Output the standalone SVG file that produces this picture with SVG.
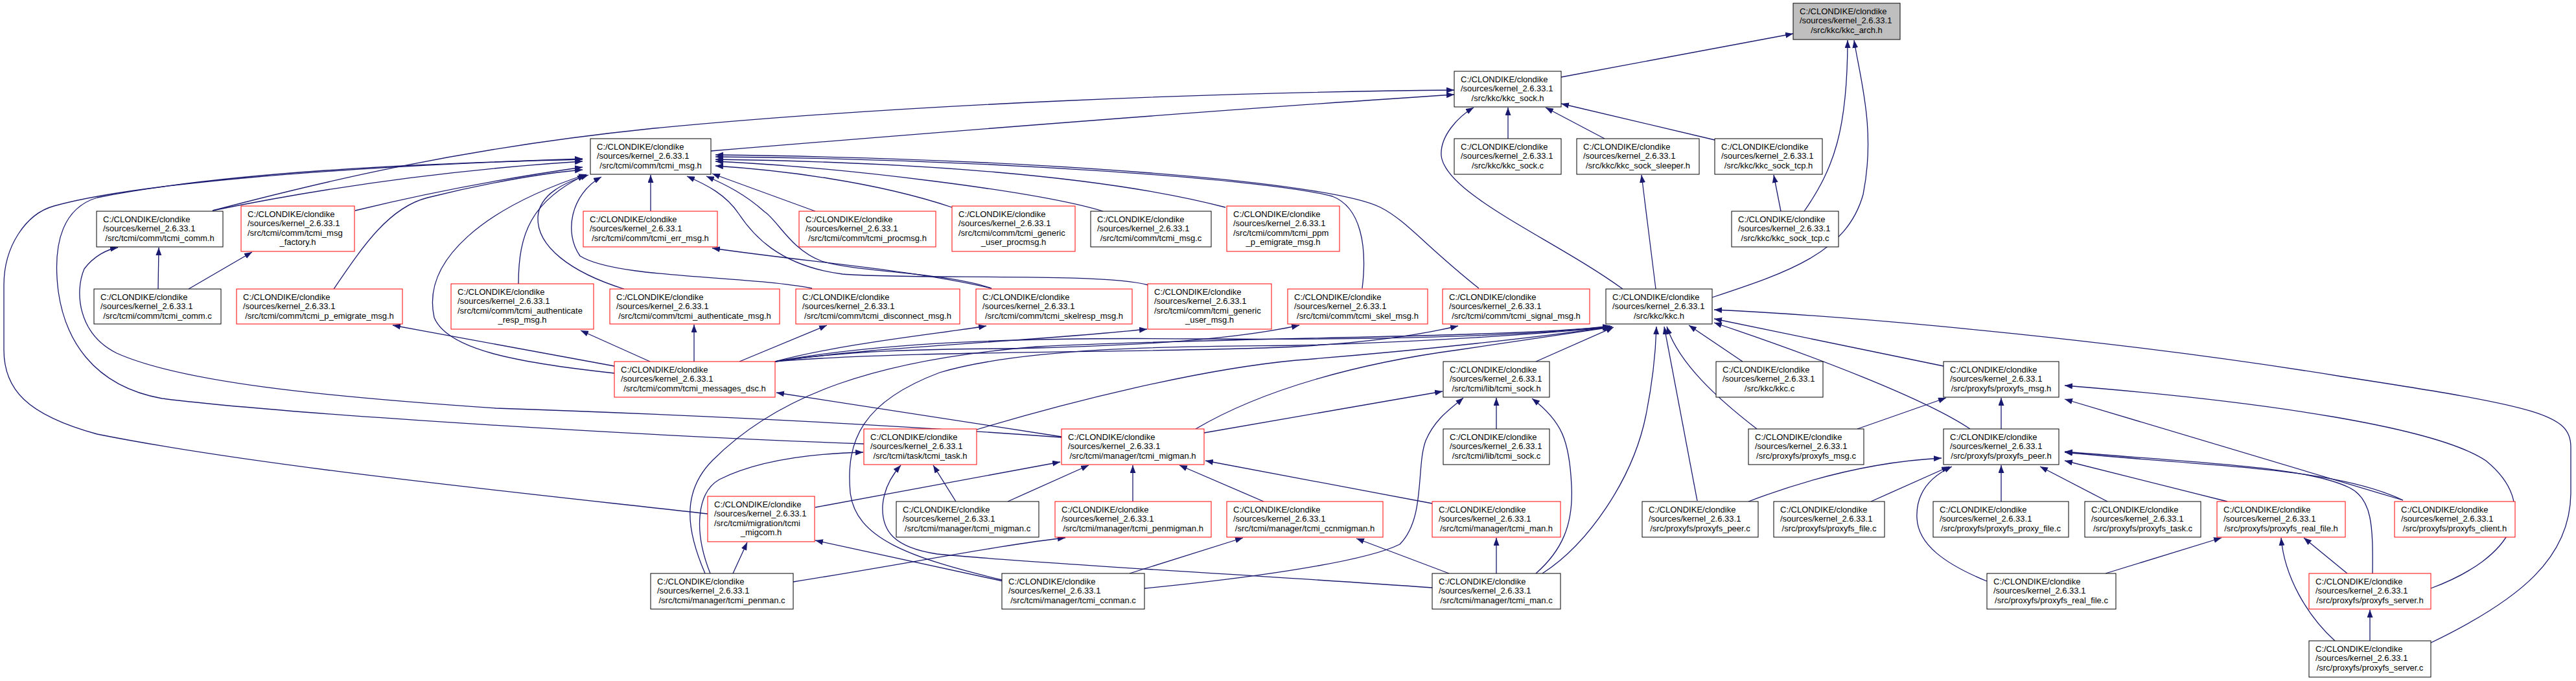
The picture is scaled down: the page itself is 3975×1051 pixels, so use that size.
<svg xmlns="http://www.w3.org/2000/svg" width="3975" height="1051" viewBox="0 0 3975 1051">
<defs>
<style>
rect{stroke-width:1;fill:#fff}
.k{stroke:#000}
.r{stroke:#ff0000}
.g{fill:#bfbfbf;stroke:#000}
text{font-family:"Liberation Sans",Arial,sans-serif;font-size:13px;fill:#000}
.c{text-anchor:middle}
#edges path{fill:none;stroke:#191970;stroke-width:1.3;marker-end:url(#a)}
</style>
<marker id="a" viewBox="0 0 12 9" refX="12" refY="4.5" markerWidth="12" markerHeight="9" markerUnits="userSpaceOnUse" orient="auto"><path d="M0,0 L12,4.5 L0,9 z" fill="#191970"/></marker>
</defs>
<rect x="0" y="0" width="3975" height="1051" fill="#fff" stroke="none"/>
<g id="edges">
<path d="M2409,119 L2767,52"/>
<path d="M2784,326 C2830,260 2851,200 2851,62"/>
<path d="M2642,459 C2760,420 2850,390 2875,300 C2895,200 2870,120 2861,62"/>
<path d="M1097,233 C1400,208 1900,168 2244,146"/>
<path d="M328,325 C480,285 700,230 1000,199 C1400,160 1900,142 2244,139"/>
<path d="M2327,214 L2327,166"/>
<path d="M2476,214 L2385,166"/>
<path d="M2646,216 L2409,160"/>
<path d="M2504,446 C2400,370 2230,300 2224,240 C2222,210 2250,180 2274,166"/>
<path d="M2748,326 L2737,270"/>
<path d="M2555,446 L2533,270"/>
<path d="M328,325 C450,300 650,265 899,249"/>
<path d="M548,325 C650,300 780,275 899,258"/>
<path d="M515,446 C560,380 600,320 660,305 C740,285 830,268 899,262"/>
<path d="M800,438 C800,360 820,310 903,270"/>
<path d="M948,576 C800,560 690,540 670,490 C650,400 750,320 905,269"/>
<path d="M963,446 C880,420 828,380 830,335 C832,300 870,282 908,270"/>
<path d="M1253,445 C1150,425 950,430 895,395 C870,360 880,300 928,273"/>
<path d="M1004,326 L1004,270"/>
<path d="M1772,440 C1700,420 1400,432 1300,423 C1200,410 1160,360 1140,330 C1120,300 1090,285 1060,272"/>
<path d="M1530,445 C1460,420 1320,420 1268,403 C1220,385 1200,340 1180,327 C1150,300 1120,285 1090,272"/>
<path d="M1530,445 C1400,415 1250,405 1099,383"/>
<path d="M1258,326 L1099,268"/>
<path d="M1469,320 C1350,280 1200,262 1104,256"/>
<path d="M1702,326 C1600,295 1300,258 1104,249"/>
<path d="M1891,320 C1700,270 1400,250 1104,246"/>
<path d="M2102,445 C2110,380 2100,320 2056,303 C1950,275 1500,245 1104,242"/>
<path d="M2282,445 C2200,380 2170,340 2130,320 C2050,280 1600,245 1104,239"/>
<path d="M1333,685 C1000,673 450,640 250,615 C140,595 100,520 90,450 C80,370 100,320 150,305 C350,265 650,252 899,246"/>
<path d="M1092,793 C800,760 400,720 150,670 C40,640 6,600 6,540 L6,440 C6,380 40,330 83,318 C200,285 500,258 899,245"/>
<path d="M1638,675 C1300,650 1000,638 765,630 C500,612 280,590 180,545 C120,515 115,450 130,415 C145,395 165,385 182,382"/>
<path d="M244,446 L245,382"/>
<path d="M291,446 L389,389"/>
<path d="M948,565 L606,502"/>
<path d="M1003,558 L896,510"/>
<path d="M1071,558 L1071,501"/>
<path d="M1141,558 L1276,502"/>
<path d="M1196,558 C1300,530 1450,515 1522,503"/>
<path d="M1196,558 C1350,535 1550,530 1770,508"/>
<path d="M1196,558 C1350,535 1500,540 1600,537 C1750,533 1900,525 2005,502"/>
<path d="M1196,558 C1400,540 1800,545 2000,535 C2120,528 2200,515 2250,503"/>
<path d="M1196,558 C1350,530 1550,520 1850,523 C2100,525 2350,520 2485,503"/>
<path d="M1507,663 C1650,620 1850,570 2000,556 C2200,540 2380,520 2488,504"/>
<path d="M1845,662 C1950,600 2100,560 2250,540 C2350,525 2440,512 2486,505"/>
<path d="M1858,668 L2226,604"/>
<path d="M1088,885 C1060,820 1050,760 1100,710 C1200,610 1350,555 1600,535 C1900,520 2300,522 2485,504"/>
<path d="M1096,885 C1070,820 1075,760 1110,740 C1170,710 1250,700 1332,698"/>
<path d="M1131,885 L1153,837"/>
<path d="M1224,898 C1400,870 1550,840 1644,830"/>
<path d="M1546,895 C1400,860 1320,830 1312,760 C1305,680 1330,620 1450,575 C1600,530 1900,535 2000,533 C2200,528 2380,515 2485,505"/>
<path d="M2210,907 C1900,885 1600,870 1446,855 C1380,845 1360,820 1362,780 C1364,755 1375,735 1390,718"/>
<path d="M1548,897 L1258,834"/>
<path d="M1743,885 L1918,830"/>
<path d="M1766,908 C1900,895 2100,870 2160,840 C2200,800 2185,720 2200,680 C2215,645 2240,630 2258,614"/>
<path d="M1475,774 L1440,718"/>
<path d="M1555,774 L1680,718"/>
<path d="M1748,774 L1748,718"/>
<path d="M1950,774 L1820,718"/>
<path d="M1258,783 L1636,713"/>
<path d="M2210,777 L1860,711"/>
<path d="M1638,674 L1198,606"/>
<path d="M2309,885 L2309,830"/>
<path d="M2236,885 L2093,831"/>
<path d="M2370,885 C2410,850 2428,810 2425,750 C2422,680 2410,650 2364,615"/>
<path d="M2380,885 C2450,840 2520,740 2540,640 C2552,580 2555,540 2556,504"/>
<path d="M2309,662 L2309,614"/>
<path d="M2370,558 L2490,505"/>
<path d="M2619,773 L2568,504"/>
<path d="M2711,662 C2650,615 2590,560 2572,504"/>
<path d="M2689,558 L2606,502"/>
<path d="M2999,565 L2645,492"/>
<path d="M3040,662 C2970,615 2800,550 2645,498"/>
<path d="M3751,992 C3890,925 3967,860 3967,760 L3967,690 C3967,640 3920,628 3613,581 C3300,530 2900,490 2645,478"/>
<path d="M2866,662 L3003,614"/>
<path d="M3088,662 L3088,614"/>
<path d="M3708,772 L3186,616"/>
<path d="M3751,908 C3880,860 3920,780 3836,711 C3760,660 3500,620 3186,595"/>
<path d="M2698,774 C2800,735 2900,712 2996,707"/>
<path d="M2887,774 L3008,720"/>
<path d="M3066,897 C3000,870 2960,840 2958,800 C2956,760 2980,735 3012,720"/>
<path d="M3088,774 L3088,718"/>
<path d="M3252,774 L3148,720"/>
<path d="M3437,774 L3186,711"/>
<path d="M3708,772 C3600,720 3400,720 3186,698"/>
<path d="M3661,885 C3662,810 3660,770 3626,753 C3560,720 3400,715 3186,697"/>
<path d="M3249,885 L3428,830"/>
<path d="M3622,885 L3555,830"/>
<path d="M3603,989 C3560,950 3525,890 3520,830"/>
<path d="M3657,989 L3657,941"/>
</g>
<g id="n_kkc_arch_h"><rect class="g" x="2767" y="5" width="165" height="56"/><text x="2777" y="21.5">C:/CLONDIKE/clondike</text><text x="2777" y="36">/sources/kernel_2.6.33.1</text><text class="c" x="2849.5" y="50.5">/src/kkc/kkc_arch.h</text></g>
<g id="n_kkc_sock_h"><rect class="k" x="2244" y="110" width="165" height="55"/><text x="2254" y="126.5">C:/CLONDIKE/clondike</text><text x="2254" y="141">/sources/kernel_2.6.33.1</text><text class="c" x="2326.5" y="155.5">/src/kkc/kkc_sock.h</text></g>
<g id="n_kkc_sock_c"><rect class="k" x="2244" y="214" width="165" height="55"/><text x="2254" y="230.5">C:/CLONDIKE/clondike</text><text x="2254" y="245">/sources/kernel_2.6.33.1</text><text class="c" x="2326.5" y="259.5">/src/kkc/kkc_sock.c</text></g>
<g id="n_kkc_sock_sleeper_h"><rect class="k" x="2433" y="214" width="189" height="55"/><text x="2443" y="230.5">C:/CLONDIKE/clondike</text><text x="2443" y="245">/sources/kernel_2.6.33.1</text><text class="c" x="2527.5" y="259.5">/src/kkc/kkc_sock_sleeper.h</text></g>
<g id="n_kkc_sock_tcp_h"><rect class="k" x="2646" y="214" width="166" height="55"/><text x="2656" y="230.5">C:/CLONDIKE/clondike</text><text x="2656" y="245">/sources/kernel_2.6.33.1</text><text class="c" x="2729" y="259.5">/src/kkc/kkc_sock_tcp.h</text></g>
<g id="n_kkc_sock_tcp_c"><rect class="k" x="2672" y="326" width="165" height="55"/><text x="2682" y="342.5">C:/CLONDIKE/clondike</text><text x="2682" y="357">/sources/kernel_2.6.33.1</text><text class="c" x="2754.5" y="371.5">/src/kkc/kkc_sock_tcp.c</text></g>
<g id="n_tcmi_msg_h"><rect class="k" x="911" y="214" width="186" height="55"/><text x="921" y="230.5">C:/CLONDIKE/clondike</text><text x="921" y="245">/sources/kernel_2.6.33.1</text><text class="c" x="1004" y="259.5">/src/tcmi/comm/tcmi_msg.h</text></g>
<g id="n_tcmi_comm_h"><rect class="k" x="149" y="326" width="195" height="55"/><text x="159" y="342.5">C:/CLONDIKE/clondike</text><text x="159" y="357">/sources/kernel_2.6.33.1</text><text class="c" x="246.5" y="371.5">/src/tcmi/comm/tcmi_comm.h</text></g>
<g id="n_tcmi_msg_factory_h"><rect class="r" x="372" y="318" width="175" height="70"/><text x="382" y="334.5">C:/CLONDIKE/clondike</text><text x="382" y="349">/sources/kernel_2.6.33.1</text><text x="382" y="363.5">/src/tcmi/comm/tcmi_msg</text><text class="c" x="459.5" y="378">_factory.h</text></g>
<g id="n_tcmi_comm_c"><rect class="k" x="145" y="446" width="196" height="54"/><text x="155" y="462.5">C:/CLONDIKE/clondike</text><text x="155" y="477">/sources/kernel_2.6.33.1</text><text class="c" x="243" y="491.5">/src/tcmi/comm/tcmi_comm.c</text></g>
<g id="n_tcmi_p_emigrate_msg_h"><rect class="r" x="365" y="446" width="256" height="54"/><text x="375" y="462.5">C:/CLONDIKE/clondike</text><text x="375" y="477">/sources/kernel_2.6.33.1</text><text class="c" x="493" y="491.5">/src/tcmi/comm/tcmi_p_emigrate_msg.h</text></g>
<g id="n_tcmi_authenticate_resp_msg_h"><rect class="r" x="696" y="438" width="220" height="70"/><text x="706" y="454.5">C:/CLONDIKE/clondike</text><text x="706" y="469">/sources/kernel_2.6.33.1</text><text x="706" y="483.5">/src/tcmi/comm/tcmi_authenticate</text><text class="c" x="806" y="498">_resp_msg.h</text></g>
<g id="n_tcmi_err_msg_h"><rect class="r" x="900" y="326" width="207" height="55"/><text x="910" y="342.5">C:/CLONDIKE/clondike</text><text x="910" y="357">/sources/kernel_2.6.33.1</text><text class="c" x="1003.5" y="371.5">/src/tcmi/comm/tcmi_err_msg.h</text></g>
<g id="n_tcmi_authenticate_msg_h"><rect class="r" x="941" y="446" width="262" height="54"/><text x="951" y="462.5">C:/CLONDIKE/clondike</text><text x="951" y="477">/sources/kernel_2.6.33.1</text><text class="c" x="1072" y="491.5">/src/tcmi/comm/tcmi_authenticate_msg.h</text></g>
<g id="n_tcmi_procmsg_h"><rect class="r" x="1233" y="326" width="211" height="55"/><text x="1243" y="342.5">C:/CLONDIKE/clondike</text><text x="1243" y="357">/sources/kernel_2.6.33.1</text><text class="c" x="1338.5" y="371.5">/src/tcmi/comm/tcmi_procmsg.h</text></g>
<g id="n_tcmi_generic_user_procmsg_h"><rect class="r" x="1469" y="318" width="190" height="70"/><text x="1479" y="334.5">C:/CLONDIKE/clondike</text><text x="1479" y="349">/sources/kernel_2.6.33.1</text><text x="1479" y="363.5">/src/tcmi/comm/tcmi_generic</text><text class="c" x="1564" y="378">_user_procmsg.h</text></g>
<g id="n_tcmi_msg_c"><rect class="k" x="1683" y="326" width="186" height="55"/><text x="1693" y="342.5">C:/CLONDIKE/clondike</text><text x="1693" y="357">/sources/kernel_2.6.33.1</text><text class="c" x="1776" y="371.5">/src/tcmi/comm/tcmi_msg.c</text></g>
<g id="n_tcmi_ppm_p_emigrate_msg_h"><rect class="r" x="1893" y="318" width="174" height="70"/><text x="1903" y="334.5">C:/CLONDIKE/clondike</text><text x="1903" y="349">/sources/kernel_2.6.33.1</text><text x="1903" y="363.5">/src/tcmi/comm/tcmi_ppm</text><text class="c" x="1980" y="378">_p_emigrate_msg.h</text></g>
<g id="n_tcmi_disconnect_msg_h"><rect class="r" x="1228" y="446" width="253" height="54"/><text x="1238" y="462.5">C:/CLONDIKE/clondike</text><text x="1238" y="477">/sources/kernel_2.6.33.1</text><text class="c" x="1354.5" y="491.5">/src/tcmi/comm/tcmi_disconnect_msg.h</text></g>
<g id="n_tcmi_skelresp_msg_h"><rect class="r" x="1506" y="446" width="241" height="54"/><text x="1516" y="462.5">C:/CLONDIKE/clondike</text><text x="1516" y="477">/sources/kernel_2.6.33.1</text><text class="c" x="1626.5" y="491.5">/src/tcmi/comm/tcmi_skelresp_msg.h</text></g>
<g id="n_tcmi_generic_user_msg_h"><rect class="r" x="1771" y="438" width="191" height="70"/><text x="1781" y="454.5">C:/CLONDIKE/clondike</text><text x="1781" y="469">/sources/kernel_2.6.33.1</text><text x="1781" y="483.5">/src/tcmi/comm/tcmi_generic</text><text class="c" x="1866.5" y="498">_user_msg.h</text></g>
<g id="n_tcmi_skel_msg_h"><rect class="r" x="1987" y="446" width="216" height="54"/><text x="1997" y="462.5">C:/CLONDIKE/clondike</text><text x="1997" y="477">/sources/kernel_2.6.33.1</text><text class="c" x="2095" y="491.5">/src/tcmi/comm/tcmi_skel_msg.h</text></g>
<g id="n_tcmi_signal_msg_h"><rect class="r" x="2226" y="446" width="227" height="54"/><text x="2236" y="462.5">C:/CLONDIKE/clondike</text><text x="2236" y="477">/sources/kernel_2.6.33.1</text><text class="c" x="2339.5" y="491.5">/src/tcmi/comm/tcmi_signal_msg.h</text></g>
<g id="n_kkc_h"><rect class="k" x="2478" y="446" width="164" height="54"/><text x="2488" y="462.5">C:/CLONDIKE/clondike</text><text x="2488" y="477">/sources/kernel_2.6.33.1</text><text class="c" x="2560" y="491.5">/src/kkc/kkc.h</text></g>
<g id="n_tcmi_messages_dsc_h"><rect class="r" x="948" y="558" width="248" height="55"/><text x="958" y="574.5">C:/CLONDIKE/clondike</text><text x="958" y="589">/sources/kernel_2.6.33.1</text><text class="c" x="1072" y="603.5">/src/tcmi/comm/tcmi_messages_dsc.h</text></g>
<g id="n_tcmi_task_h"><rect class="r" x="1333" y="662" width="174" height="55"/><text x="1343" y="678.5">C:/CLONDIKE/clondike</text><text x="1343" y="693">/sources/kernel_2.6.33.1</text><text class="c" x="1420" y="707.5">/src/tcmi/task/tcmi_task.h</text></g>
<g id="n_tcmi_migman_h"><rect class="r" x="1638" y="662" width="220" height="55"/><text x="1648" y="678.5">C:/CLONDIKE/clondike</text><text x="1648" y="693">/sources/kernel_2.6.33.1</text><text class="c" x="1748" y="707.5">/src/tcmi/manager/tcmi_migman.h</text></g>
<g id="n_tcmi_migcom_h"><rect class="r" x="1092" y="766" width="165" height="70"/><text x="1102" y="782.5">C:/CLONDIKE/clondike</text><text x="1102" y="797">/sources/kernel_2.6.33.1</text><text x="1102" y="811.5">/src/tcmi/migration/tcmi</text><text class="c" x="1174.5" y="826">_migcom.h</text></g>
<g id="n_tcmi_migman_c"><rect class="k" x="1383" y="774" width="220" height="55"/><text x="1393" y="790.5">C:/CLONDIKE/clondike</text><text x="1393" y="805">/sources/kernel_2.6.33.1</text><text class="c" x="1493" y="819.5">/src/tcmi/manager/tcmi_migman.c</text></g>
<g id="n_tcmi_penmigman_h"><rect class="r" x="1628" y="774" width="241" height="55"/><text x="1638" y="790.5">C:/CLONDIKE/clondike</text><text x="1638" y="805">/sources/kernel_2.6.33.1</text><text class="c" x="1748.5" y="819.5">/src/tcmi/manager/tcmi_penmigman.h</text></g>
<g id="n_tcmi_ccnmigman_h"><rect class="r" x="1893" y="774" width="241" height="55"/><text x="1903" y="790.5">C:/CLONDIKE/clondike</text><text x="1903" y="805">/sources/kernel_2.6.33.1</text><text class="c" x="2013.5" y="819.5">/src/tcmi/manager/tcmi_ccnmigman.h</text></g>
<g id="n_tcmi_penman_c"><rect class="k" x="1004" y="885" width="220" height="55"/><text x="1014" y="901.5">C:/CLONDIKE/clondike</text><text x="1014" y="916">/sources/kernel_2.6.33.1</text><text class="c" x="1114" y="930.5">/src/tcmi/manager/tcmi_penman.c</text></g>
<g id="n_tcmi_ccnman_c"><rect class="k" x="1546" y="885" width="220" height="55"/><text x="1556" y="901.5">C:/CLONDIKE/clondike</text><text x="1556" y="916">/sources/kernel_2.6.33.1</text><text class="c" x="1656" y="930.5">/src/tcmi/manager/tcmi_ccnman.c</text></g>
<g id="n_tcmi_sock_h"><rect class="k" x="2227" y="558" width="164" height="55"/><text x="2237" y="574.5">C:/CLONDIKE/clondike</text><text x="2237" y="589">/sources/kernel_2.6.33.1</text><text class="c" x="2309" y="603.5">/src/tcmi/lib/tcmi_sock.h</text></g>
<g id="n_kkc_c"><rect class="k" x="2648" y="558" width="165" height="55"/><text x="2658" y="574.5">C:/CLONDIKE/clondike</text><text x="2658" y="589">/sources/kernel_2.6.33.1</text><text class="c" x="2730.5" y="603.5">/src/kkc/kkc.c</text></g>
<g id="n_tcmi_sock_c"><rect class="k" x="2227" y="662" width="164" height="55"/><text x="2237" y="678.5">C:/CLONDIKE/clondike</text><text x="2237" y="693">/sources/kernel_2.6.33.1</text><text class="c" x="2309" y="707.5">/src/tcmi/lib/tcmi_sock.c</text></g>
<g id="n_proxyfs_msg_c"><rect class="k" x="2698" y="662" width="178" height="55"/><text x="2708" y="678.5">C:/CLONDIKE/clondike</text><text x="2708" y="693">/sources/kernel_2.6.33.1</text><text class="c" x="2787" y="707.5">/src/proxyfs/proxyfs_msg.c</text></g>
<g id="n_tcmi_man_h"><rect class="r" x="2210" y="774" width="198" height="55"/><text x="2220" y="790.5">C:/CLONDIKE/clondike</text><text x="2220" y="805">/sources/kernel_2.6.33.1</text><text class="c" x="2309" y="819.5">/src/tcmi/manager/tcmi_man.h</text></g>
<g id="n_proxyfs_peer_c"><rect class="k" x="2534" y="774" width="179" height="55"/><text x="2544" y="790.5">C:/CLONDIKE/clondike</text><text x="2544" y="805">/sources/kernel_2.6.33.1</text><text class="c" x="2623.5" y="819.5">/src/proxyfs/proxyfs_peer.c</text></g>
<g id="n_proxyfs_file_c"><rect class="k" x="2737" y="774" width="171" height="55"/><text x="2747" y="790.5">C:/CLONDIKE/clondike</text><text x="2747" y="805">/sources/kernel_2.6.33.1</text><text class="c" x="2822.5" y="819.5">/src/proxyfs/proxyfs_file.c</text></g>
<g id="n_tcmi_man_c"><rect class="k" x="2210" y="885" width="198" height="55"/><text x="2220" y="901.5">C:/CLONDIKE/clondike</text><text x="2220" y="916">/sources/kernel_2.6.33.1</text><text class="c" x="2309" y="930.5">/src/tcmi/manager/tcmi_man.c</text></g>
<g id="n_proxyfs_msg_h"><rect class="k" x="2999" y="558" width="178" height="55"/><text x="3009" y="574.5">C:/CLONDIKE/clondike</text><text x="3009" y="589">/sources/kernel_2.6.33.1</text><text class="c" x="3088" y="603.5">/src/proxyfs/proxyfs_msg.h</text></g>
<g id="n_proxyfs_peer_h"><rect class="k" x="2999" y="662" width="178" height="55"/><text x="3009" y="678.5">C:/CLONDIKE/clondike</text><text x="3009" y="693">/sources/kernel_2.6.33.1</text><text class="c" x="3088" y="707.5">/src/proxyfs/proxyfs_peer.h</text></g>
<g id="n_proxyfs_proxy_file_c"><rect class="k" x="2983" y="774" width="209" height="55"/><text x="2993" y="790.5">C:/CLONDIKE/clondike</text><text x="2993" y="805">/sources/kernel_2.6.33.1</text><text class="c" x="3087.5" y="819.5">/src/proxyfs/proxyfs_proxy_file.c</text></g>
<g id="n_proxyfs_task_c"><rect class="k" x="3217" y="774" width="179" height="55"/><text x="3227" y="790.5">C:/CLONDIKE/clondike</text><text x="3227" y="805">/sources/kernel_2.6.33.1</text><text class="c" x="3306.5" y="819.5">/src/proxyfs/proxyfs_task.c</text></g>
<g id="n_proxyfs_real_file_h"><rect class="r" x="3421" y="774" width="198" height="55"/><text x="3431" y="790.5">C:/CLONDIKE/clondike</text><text x="3431" y="805">/sources/kernel_2.6.33.1</text><text class="c" x="3520" y="819.5">/src/proxyfs/proxyfs_real_file.h</text></g>
<g id="n_proxyfs_client_h"><rect class="r" x="3695" y="774" width="186" height="55"/><text x="3705" y="790.5">C:/CLONDIKE/clondike</text><text x="3705" y="805">/sources/kernel_2.6.33.1</text><text class="c" x="3788" y="819.5">/src/proxyfs/proxyfs_client.h</text></g>
<g id="n_proxyfs_real_file_c"><rect class="k" x="3066" y="885" width="199" height="55"/><text x="3076" y="901.5">C:/CLONDIKE/clondike</text><text x="3076" y="916">/sources/kernel_2.6.33.1</text><text class="c" x="3165.5" y="930.5">/src/proxyfs/proxyfs_real_file.c</text></g>
<g id="n_proxyfs_server_h"><rect class="r" x="3563" y="885" width="188" height="55"/><text x="3573" y="901.5">C:/CLONDIKE/clondike</text><text x="3573" y="916">/sources/kernel_2.6.33.1</text><text class="c" x="3657" y="930.5">/src/proxyfs/proxyfs_server.h</text></g>
<g id="n_proxyfs_server_c"><rect class="k" x="3563" y="989" width="188" height="56"/><text x="3573" y="1005.5">C:/CLONDIKE/clondike</text><text x="3573" y="1020">/sources/kernel_2.6.33.1</text><text class="c" x="3657" y="1034.5">/src/proxyfs/proxyfs_server.c</text></g>
</svg>
